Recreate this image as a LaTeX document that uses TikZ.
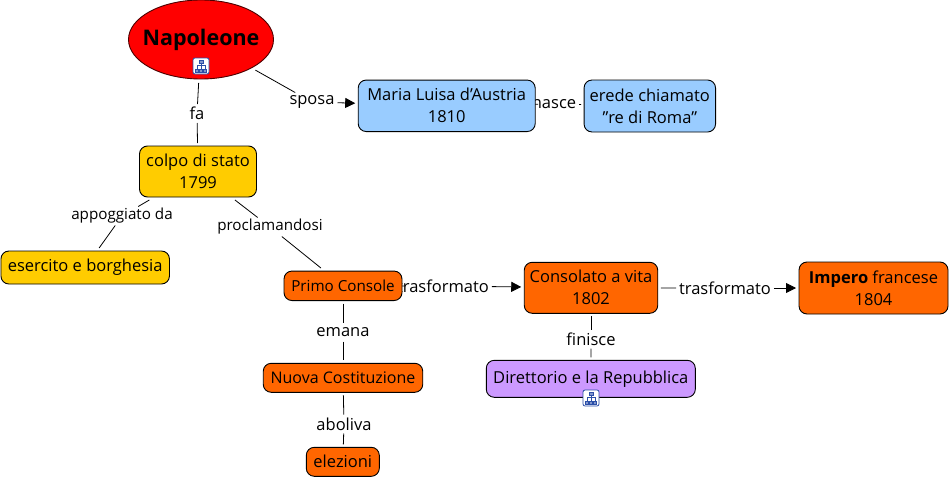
\documentclass[tikz,border=0pt]{standalone}
\usepackage{fontspec}
\setmainfont{Open Sans}
\usetikzlibrary{shapes.geometric,arrows.meta,backgrounds}
\tikzset{
  every node/.style={font=\fontsize{16.5}{22}\selectfont, text=black},
  small/.style={font=\fontsize{15.2}{22}\selectfont},
  box/.style={draw=black, line width=0.9pt, rounded corners=8pt, inner sep=0pt, outer sep=3pt, align=center},
  lab/.style={inner xsep=3pt, inner ysep=0pt, minimum height=19pt, outer sep=0pt},
  conn/.style={draw=black, line width=0.8pt},
  arr/.style={conn, -{Triangle[length=10pt,width=10pt]}},
  redfill/.style={fill=cRed}, bluefill/.style={fill=cBlue}, yellowfill/.style={fill=cYellow},
  orangefill/.style={fill=cOrange}, purplefill/.style={fill=cPurple},
  maplink/.style={draw=cLink, fill=white, line width=0.8pt, rounded corners=2pt, minimum size=16pt, inner sep=0pt, outer sep=0pt},
  tiny/.style={fill=cLink!60!white, draw=cLink, line width=0.5pt}
}
\definecolor{cRed}{HTML}{FF0000}
\definecolor{cBlue}{HTML}{99CCFF}
\definecolor{cYellow}{HTML}{FFCC00}
\definecolor{cOrange}{HTML}{FF6600}
\definecolor{cPurple}{HTML}{CC99FF}
\definecolor{cLink}{HTML}{2B4FA8}
\newcommand{\treeicon}[1]{%
  \draw[cLink,line width=0.5pt] ([shift={(0,-3)}]#1.center) -- ([shift={(0,4)}]#1.center)
    ([shift={(-4,3)}]#1.center) -- ([shift={(-4,-1)}]#1.center) -- ([shift={(4,-1)}]#1.center) -- ([shift={(4,3)}]#1.center);
  \path[tiny] ([shift={(-2,-6)}]#1.center) rectangle +(4,3);
  \path[tiny] ([shift={(-5.5,3)}]#1.center) rectangle +(3,3);
  \path[tiny] ([shift={(-1.5,3)}]#1.center) rectangle +(3,3);
  \path[tiny] ([shift={(2.5,3)}]#1.center) rectangle +(3,3);
}
\begin{document}
\begin{tikzpicture}[x=1pt,y=-1pt]
\path[use as bounding box] (0,0) rectangle (950,479);
% labels
\node[lab] (lfa) at (197,113.5) {fa};
\node[lab] (lsposa) at (312,102) {sposa};
\node[lab] (lnasce) at (554,104) {nasce};
\node[lab,small] (lapp) at (122,216) {appoggiato da};
\node[lab,small] (lproc) at (270,227) {proclamandosi};
\node[lab] (ltr1) at (443,286) {trasformato};
\node[lab] (ltr2) at (725,288) {trasformato};
\node[lab] (lem) at (343,332) {emana};
\node[lab] (labo) at (344,424) {aboliva};
\node[lab] (lfin) at (591,339) {finisce};
% concepts
\node[draw=black!70!red, line width=0.9pt, redfill, ellipse, inner sep=0pt, outer sep=4pt, minimum width=145pt, minimum height=79pt,
  font=\fontsize{21.5}{26}\selectfont\bfseries] (nap) at (201,39.5) {\makebox[0pt]{\raisebox{4pt}{Napoleone}}};
\node[box,bluefill, minimum width=177pt, minimum height=51.5pt] (maria) at (446.7,105.8) {Maria Luisa d\symbol{39}Austria\\1810};
\node[box,bluefill, minimum width=131.5pt, minimum height=52pt] (erede) at (649.8,106) {erede chiamato\\\symbol{34}re di Roma\symbol{34}};
\node[box,yellowfill, minimum width=117pt, minimum height=51pt] (colpo) at (198,171.5) {colpo di stato\\1799};
\node[box,yellowfill, minimum width=168.5pt, minimum height=33pt] (eser) at (85.2,267.5) {esercito e borghesia};
\node[box,orangefill,small, minimum width=118pt, minimum height=29.5pt] (primo) at (343,285.8) {Primo Console};
\node[box,orangefill, minimum width=133.5pt, minimum height=51pt] (cons) at (591,287.8) {Consolato a vita\\1802};
\node[box,orangefill, minimum width=149pt, minimum height=52pt] (imp) at (873.5,288) {\textbf{Impero} francese\\1804};
\node[box,purplefill, minimum width=209pt, minimum height=37pt] (dir) at (590.8,378.8) {\raisebox{3pt}{Direttorio e la Repubblica}};
\node[box,orangefill, minimum width=159.5pt, minimum height=29pt, font=\fontsize{16}{22}\selectfont] (nuova) at (343,377.8) {Nuova Costituzione};
\node[box,orangefill, minimum width=73pt, minimum height=29pt] (elez) at (342.8,461.8) {elezioni};
% map links
\node[maplink] (ic1) at (201,66) {};
\treeicon{ic1}
\node[maplink] (ic2) at (591,398) {};
\treeicon{ic2}
% connectors
\begin{scope}[on background layer]
\draw[conn] (maria) -- (lnasce);
\draw[conn] (primo) -- (ltr1);
\end{scope}
\draw[conn] (nap) -- (lfa);
\draw[conn] (lfa) -- (colpo);
\draw[conn] (nap) -- (lsposa);
\draw[arr] (lsposa) -- (maria);
\draw[conn] (lnasce) -- (erede);
\draw[conn] (colpo) -- (lapp);
\draw[conn] (lapp) -- (eser);
\draw[conn] (colpo) -- (lproc);
\draw[conn] (lproc) -- (primo);
\draw[arr] (ltr1) -- (cons);
\draw[conn] (cons) -- (ltr2);
\draw[arr] (ltr2) -- (imp);
\draw[conn] (primo) -- (lem);
\draw[conn] (lem) -- (nuova);
\draw[conn] (nuova) -- (labo);
\draw[conn] (labo) -- (elez);
\draw[conn] (cons) -- (lfin);
\draw[conn] (lfin) -- (dir);
\end{tikzpicture}
\end{document}
